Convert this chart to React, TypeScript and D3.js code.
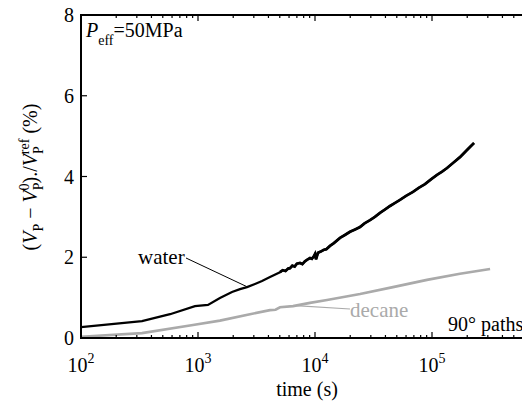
import React from "react";
import * as d3 from "d3";

const waterT = [100, 332, 577, 942, 1217, 1540, 1953, 2285, 2624, 3070, 3525, 4125, 5020, 5300, 5600, 5900, 6110, 6400, 6700, 7000, 7440, 7800, 8200, 8600, 9060, 9400, 9800, 10000, 10200, 10600, 11200, 11800, 12500, 13430, 14500, 16360, 18000, 19920, 22000, 24260, 26500, 29530, 32500, 35950, 39500, 43770, 48000, 53260, 60000, 68800, 77000, 87100, 98000, 110400, 122000, 134400, 152000, 173400, 200000, 228600];
const waterV = [0.27, 0.42, 0.59, 0.79, 0.82, 0.99, 1.14, 1.21, 1.26, 1.34, 1.41, 1.51, 1.63, 1.68, 1.66, 1.72, 1.73, 1.79, 1.77, 1.84, 1.86, 1.83, 1.9, 1.94, 1.98, 1.96, 2.03, 2.08, 1.95, 2.11, 2.14, 2.18, 2.2, 2.28, 2.35, 2.48, 2.55, 2.63, 2.69, 2.75, 2.84, 2.92, 3.0, 3.1, 3.18, 3.27, 3.34, 3.42, 3.52, 3.62, 3.72, 3.81, 3.93, 4.04, 4.12, 4.21, 4.34, 4.48, 4.66, 4.83];

const decaneT = [100, 332, 906, 1540, 2780, 4125, 4600, 5020, 6490, 9060, 12680, 24260, 46400, 90600, 173400, 313600];
const decaneV = [0.03, 0.12, 0.32, 0.43, 0.59, 0.69, 0.7, 0.76, 0.79, 0.87, 0.94, 1.09, 1.26, 1.44, 1.59, 1.71];

const xMajor = [2, 3, 4, 5, 6];
const yTicks = [0, 2, 4, 6, 8];

const W = 530, H = 404;
const FONT = "Liberation Serif";

function T(props: any) {
  return <text fontFamily={FONT} style={{ fontFamily: FONT }} {...props} />;
}

export default function App() {
  const x = d3.scaleLog().domain([1e2, 1e6]).range([81, 549]);
  const y = d3.scaleLinear().domain([0, 8]).range([338, 15]);
  const line = d3.line<[number, number]>().x(d => x(d[0])).y(d => y(d[1]));
  const waterPts: [number, number][] = waterT.map((t, i) => [t, waterV[i]]);
  const water = line(waterPts);
  const waterLate = line(waterPts.filter(p => p[0] >= 5000));
  const decane = line(decaneT.map((t, i) => [t, decaneV[i]]));

  const minor: number[] = [];
  for (let e = 2; e < 6; e++) for (let m = 2; m <= 9; m++) minor.push(m * Math.pow(10, e));

  const wx = x(2624), wy = y(1.27);
  const dx = x(6800), dy = y(0.8);

  return (
    <svg width={W} height={H} viewBox={`8 8 ${W} ${H}`} fontFamily={FONT} style={{ overflow: "visible" }}>
      <style>{`text, tspan { font-family: "Liberation Serif", serif; }`}</style>
      <defs>
        <clipPath id="plot"><rect x={81} y={15} width={470} height={323} /></clipPath>
      </defs>
      <g clipPath="url(#plot)">
        <path d={decane ?? ""} fill="none" stroke="#aaaaaa" strokeWidth={2.6} />
        <path d={water ?? ""} fill="none" stroke="#000" strokeWidth={2.2} />
        <path d={waterLate ?? ""} fill="none" stroke="#000" strokeWidth={2.8} />
      </g>
      <line x1={186} y1={258} x2={wx} y2={wy} stroke="#000" strokeWidth={1} />
      <T x={138} y={264} fontSize={21}>water</T>
      <line x1={dx} y1={dy} x2={350} y2={309} stroke="#aaaaaa" strokeWidth={1.2} />
      <T x={350} y={317} fontSize={21} fill="#aaaaaa">decane</T>
      <T x={448} y={331} fontSize={20}>90° paths</T>
      <T x={86} y={37} fontSize={20}>
        <tspan fontStyle="italic">P</tspan>
        <tspan fontSize={14} dy={8}>eff</tspan>
        <tspan dy={-8}>=50MPa</tspan>
      </T>
      <line x1={81} y1={338} x2={W} y2={338} stroke="#000" strokeWidth={2} />
      <line x1={81} y1={15} x2={W} y2={15} stroke="#000" strokeWidth={2} />
      <line x1={81} y1={14} x2={81} y2={339} stroke="#000" strokeWidth={2} />
      {xMajor.map(e => {
        const px = x(Math.pow(10, e));
        return (
          <g key={e}>
            <line x1={px} y1={338} x2={px} y2={332} stroke="#000" strokeWidth={1.2} />
            <line x1={px} y1={15} x2={px} y2={21} stroke="#000" strokeWidth={1.2} />
            {px < W ? (
              <T x={px} y={372} fontSize={20} textAnchor="middle">
                10<tspan fontSize={14} dy={-9}>{e}</tspan>
              </T>
            ) : null}
          </g>
        );
      })}
      {minor.map(v => (
        <g key={v}>
          <line x1={x(v)} y1={338} x2={x(v)} y2={335} stroke="#000" strokeWidth={1.2} />
          <line x1={x(v)} y1={15} x2={x(v)} y2={18} stroke="#000" strokeWidth={1.2} />
        </g>
      ))}
      {yTicks.map(v => (
        <g key={v}>
          <line x1={81} y1={y(v)} x2={87} y2={y(v)} stroke="#000" strokeWidth={1.2} />
          <T x={74} y={y(v) + 7} fontSize={20} textAnchor="end">{v}</T>
        </g>
      ))}
      <T x={307} y={396} fontSize={20} textAnchor="middle">time (s)</T>
      <T transform="translate(37,177) rotate(-90)" fontSize={20} textAnchor="middle">
        (<tspan fontStyle="italic">V</tspan>
        <tspan fontSize={14} dy={6}>P</tspan>
        <tspan dy={-6}> − </tspan>
        <tspan fontStyle="italic">V</tspan>
        <tspan fontSize={14} dy={6}>P</tspan>
        <tspan fontSize={14} dx={-8} dy={-14}>0</tspan>
        <tspan dy={8}>)./</tspan>
        <tspan fontStyle="italic">V</tspan>
        <tspan fontSize={14} dy={6}>P</tspan>
        <tspan fontSize={14} dx={-8} dy={-14}>ref</tspan>
        <tspan dy={8}> (%)</tspan>
      </T>
    </svg>
  );
}
